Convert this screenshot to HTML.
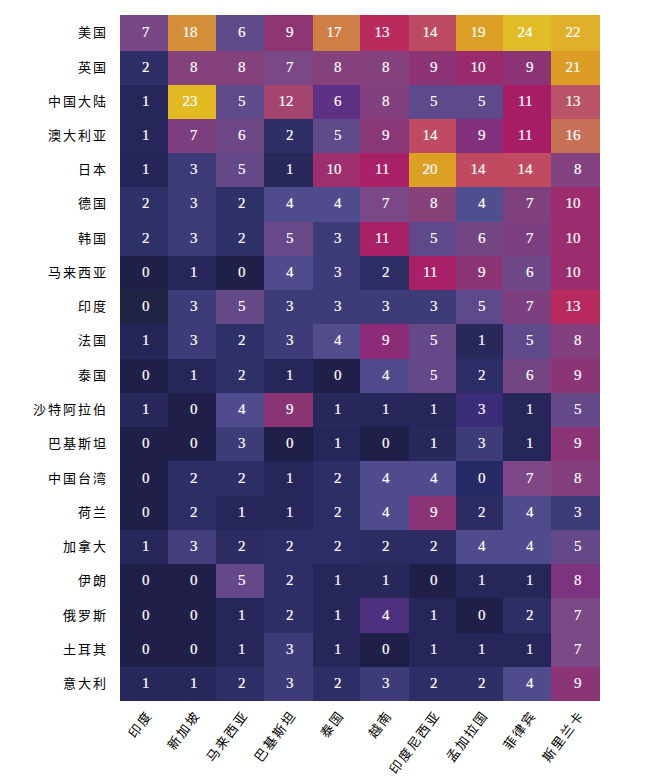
<!DOCTYPE html>
<html lang="zh-CN"><head><meta charset="utf-8"><style>
html,body{margin:0;padding:0;background:#fff;width:661px;height:777px;overflow:hidden;}
body{position:relative;font-family:"Liberation Serif",serif;}
.g{position:absolute;left:0;top:0;}
.c{position:absolute;}
.v{position:absolute;color:#fff;font-size:15px;-webkit-text-stroke:0.2px #fff;line-height:14px;text-align:right;white-space:nowrap;}
.yl{position:absolute;right:553px;font-size:13px;line-height:14px;letter-spacing:2px;font-weight:300;color:#000;white-space:nowrap;text-align:right;}
.xl{position:absolute;font-size:13px;line-height:14px;letter-spacing:2px;font-weight:300;color:#000;white-space:nowrap;transform-origin:100% 0;transform:rotate(-53deg);}
</style></head><body>

<div class="c" style="left:120px;width:48px;top:15px;height:36px;background:#774786"></div>
<div class="c" style="left:168px;width:48px;top:15px;height:36px;background:#d48f38"></div>
<div class="c" style="left:216px;width:48px;top:15px;height:36px;background:#5f4a8a"></div>
<div class="c" style="left:264px;width:49px;top:15px;height:36px;background:#8e3674"></div>
<div class="c" style="left:313px;width:47px;top:15px;height:36px;background:#cd7f46"></div>
<div class="c" style="left:360px;width:49px;top:15px;height:36px;background:#b82b5c"></div>
<div class="c" style="left:409px;width:47px;top:15px;height:36px;background:#bc4a60"></div>
<div class="c" style="left:456px;width:47px;top:15px;height:36px;background:#dc9e24"></div>
<div class="c" style="left:503px;width:48px;top:15px;height:36px;background:#e2bc26"></div>
<div class="c" style="left:551px;width:49px;top:15px;height:36px;background:#e0b02a"></div>
<div class="c" style="left:120px;width:48px;top:51px;height:34px;background:#2e2f66"></div>
<div class="c" style="left:168px;width:48px;top:51px;height:34px;background:#85417c"></div>
<div class="c" style="left:216px;width:48px;top:51px;height:34px;background:#85417c"></div>
<div class="c" style="left:264px;width:49px;top:51px;height:34px;background:#7a4885"></div>
<div class="c" style="left:313px;width:47px;top:51px;height:34px;background:#85417c"></div>
<div class="c" style="left:360px;width:49px;top:51px;height:34px;background:#84417c"></div>
<div class="c" style="left:409px;width:47px;top:51px;height:34px;background:#8c3476"></div>
<div class="c" style="left:456px;width:47px;top:51px;height:34px;background:#9a2a6e"></div>
<div class="c" style="left:503px;width:48px;top:51px;height:34px;background:#8c3476"></div>
<div class="c" style="left:551px;width:49px;top:51px;height:34px;background:#dc9c26"></div>
<div class="c" style="left:120px;width:48px;top:85px;height:34px;background:#26265a"></div>
<div class="c" style="left:168px;width:48px;top:85px;height:34px;background:#e2bb22"></div>
<div class="c" style="left:216px;width:48px;top:85px;height:34px;background:#5f4a8a"></div>
<div class="c" style="left:264px;width:49px;top:85px;height:34px;background:#a44570"></div>
<div class="c" style="left:313px;width:47px;top:85px;height:34px;background:#5f3185"></div>
<div class="c" style="left:360px;width:49px;top:85px;height:34px;background:#82407e"></div>
<div class="c" style="left:409px;width:47px;top:85px;height:34px;background:#5e4a8a"></div>
<div class="c" style="left:456px;width:47px;top:85px;height:34px;background:#5e4a8a"></div>
<div class="c" style="left:503px;width:48px;top:85px;height:34px;background:#a81e66"></div>
<div class="c" style="left:551px;width:49px;top:85px;height:34px;background:#b85466"></div>
<div class="c" style="left:120px;width:48px;top:119px;height:34px;background:#26265a"></div>
<div class="c" style="left:168px;width:48px;top:119px;height:34px;background:#7d3e80"></div>
<div class="c" style="left:216px;width:48px;top:119px;height:34px;background:#6e4787"></div>
<div class="c" style="left:264px;width:49px;top:119px;height:34px;background:#2e2f66"></div>
<div class="c" style="left:313px;width:47px;top:119px;height:34px;background:#5f4a8a"></div>
<div class="c" style="left:360px;width:49px;top:119px;height:34px;background:#8a3778"></div>
<div class="c" style="left:409px;width:47px;top:119px;height:34px;background:#c04a62"></div>
<div class="c" style="left:456px;width:47px;top:119px;height:34px;background:#82307e"></div>
<div class="c" style="left:503px;width:48px;top:119px;height:34px;background:#a81e66"></div>
<div class="c" style="left:551px;width:49px;top:119px;height:34px;background:#c87056"></div>
<div class="c" style="left:120px;width:48px;top:153px;height:34px;background:#26255a"></div>
<div class="c" style="left:168px;width:48px;top:153px;height:34px;background:#3c3b78"></div>
<div class="c" style="left:216px;width:48px;top:153px;height:34px;background:#644888"></div>
<div class="c" style="left:264px;width:49px;top:153px;height:34px;background:#28285c"></div>
<div class="c" style="left:313px;width:47px;top:153px;height:34px;background:#9e2e6e"></div>
<div class="c" style="left:360px;width:49px;top:153px;height:34px;background:#a82066"></div>
<div class="c" style="left:409px;width:47px;top:153px;height:34px;background:#dca024"></div>
<div class="c" style="left:456px;width:47px;top:153px;height:34px;background:#c04a60"></div>
<div class="c" style="left:503px;width:48px;top:153px;height:34px;background:#c04a60"></div>
<div class="c" style="left:551px;width:49px;top:153px;height:34px;background:#844380"></div>
<div class="c" style="left:120px;width:48px;top:187px;height:35px;background:#2e3068"></div>
<div class="c" style="left:168px;width:48px;top:187px;height:35px;background:#3e3c78"></div>
<div class="c" style="left:216px;width:48px;top:187px;height:35px;background:#2e3068"></div>
<div class="c" style="left:264px;width:49px;top:187px;height:35px;background:#504b8c"></div>
<div class="c" style="left:313px;width:47px;top:187px;height:35px;background:#504b8c"></div>
<div class="c" style="left:360px;width:49px;top:187px;height:35px;background:#7a4886"></div>
<div class="c" style="left:409px;width:47px;top:187px;height:35px;background:#88427a"></div>
<div class="c" style="left:456px;width:47px;top:187px;height:35px;background:#4f4e8e"></div>
<div class="c" style="left:503px;width:48px;top:187px;height:35px;background:#80407e"></div>
<div class="c" style="left:551px;width:49px;top:187px;height:35px;background:#9c2c6e"></div>
<div class="c" style="left:120px;width:48px;top:222px;height:34px;background:#2e3068"></div>
<div class="c" style="left:168px;width:48px;top:222px;height:34px;background:#3e3c78"></div>
<div class="c" style="left:216px;width:48px;top:222px;height:34px;background:#2e3068"></div>
<div class="c" style="left:264px;width:49px;top:222px;height:34px;background:#684888"></div>
<div class="c" style="left:313px;width:47px;top:222px;height:34px;background:#3e3c78"></div>
<div class="c" style="left:360px;width:49px;top:222px;height:34px;background:#a82066"></div>
<div class="c" style="left:409px;width:47px;top:222px;height:34px;background:#5e4a8a"></div>
<div class="c" style="left:456px;width:47px;top:222px;height:34px;background:#714683"></div>
<div class="c" style="left:503px;width:48px;top:222px;height:34px;background:#7c3e80"></div>
<div class="c" style="left:551px;width:49px;top:222px;height:34px;background:#9c2c6e"></div>
<div class="c" style="left:120px;width:48px;top:256px;height:34px;background:#1f1f4a"></div>
<div class="c" style="left:168px;width:48px;top:256px;height:34px;background:#26265a"></div>
<div class="c" style="left:216px;width:48px;top:256px;height:34px;background:#1f1f4a"></div>
<div class="c" style="left:264px;width:49px;top:256px;height:34px;background:#504b8c"></div>
<div class="c" style="left:313px;width:47px;top:256px;height:34px;background:#3e3c78"></div>
<div class="c" style="left:360px;width:49px;top:256px;height:34px;background:#2e2e66"></div>
<div class="c" style="left:409px;width:47px;top:256px;height:34px;background:#a82066"></div>
<div class="c" style="left:456px;width:47px;top:256px;height:34px;background:#8b3476"></div>
<div class="c" style="left:503px;width:48px;top:256px;height:34px;background:#6e4888"></div>
<div class="c" style="left:551px;width:49px;top:256px;height:34px;background:#9c2c6e"></div>
<div class="c" style="left:120px;width:48px;top:290px;height:34px;background:#1f2444"></div>
<div class="c" style="left:168px;width:48px;top:290px;height:34px;background:#3e3c78"></div>
<div class="c" style="left:216px;width:48px;top:290px;height:34px;background:#644888"></div>
<div class="c" style="left:264px;width:49px;top:290px;height:34px;background:#3e3c78"></div>
<div class="c" style="left:313px;width:47px;top:290px;height:34px;background:#3e3c78"></div>
<div class="c" style="left:360px;width:49px;top:290px;height:34px;background:#3e3c78"></div>
<div class="c" style="left:409px;width:47px;top:290px;height:34px;background:#3e3c78"></div>
<div class="c" style="left:456px;width:47px;top:290px;height:34px;background:#5e4a8a"></div>
<div class="c" style="left:503px;width:48px;top:290px;height:34px;background:#7d3e80"></div>
<div class="c" style="left:551px;width:49px;top:290px;height:34px;background:#b82a5e"></div>
<div class="c" style="left:120px;width:48px;top:324px;height:35px;background:#26255a"></div>
<div class="c" style="left:168px;width:48px;top:324px;height:35px;background:#3e3c78"></div>
<div class="c" style="left:216px;width:48px;top:324px;height:35px;background:#2e3068"></div>
<div class="c" style="left:264px;width:49px;top:324px;height:35px;background:#3e3c78"></div>
<div class="c" style="left:313px;width:47px;top:324px;height:35px;background:#524b8c"></div>
<div class="c" style="left:360px;width:49px;top:324px;height:35px;background:#8c2c78"></div>
<div class="c" style="left:409px;width:47px;top:324px;height:35px;background:#644888"></div>
<div class="c" style="left:456px;width:47px;top:324px;height:35px;background:#28285c"></div>
<div class="c" style="left:503px;width:48px;top:324px;height:35px;background:#5e4a8a"></div>
<div class="c" style="left:551px;width:49px;top:324px;height:35px;background:#84407e"></div>
<div class="c" style="left:120px;width:48px;top:359px;height:34px;background:#1f1f4a"></div>
<div class="c" style="left:168px;width:48px;top:359px;height:34px;background:#26265a"></div>
<div class="c" style="left:216px;width:48px;top:359px;height:34px;background:#2e3068"></div>
<div class="c" style="left:264px;width:49px;top:359px;height:34px;background:#26265a"></div>
<div class="c" style="left:313px;width:47px;top:359px;height:34px;background:#1f1f4a"></div>
<div class="c" style="left:360px;width:49px;top:359px;height:34px;background:#504b8c"></div>
<div class="c" style="left:409px;width:47px;top:359px;height:34px;background:#644888"></div>
<div class="c" style="left:456px;width:47px;top:359px;height:34px;background:#2c2c66"></div>
<div class="c" style="left:503px;width:48px;top:359px;height:34px;background:#714683"></div>
<div class="c" style="left:551px;width:49px;top:359px;height:34px;background:#8b3476"></div>
<div class="c" style="left:120px;width:48px;top:393px;height:34px;background:#28285c"></div>
<div class="c" style="left:168px;width:48px;top:393px;height:34px;background:#1f1f4a"></div>
<div class="c" style="left:216px;width:48px;top:393px;height:34px;background:#504b8c"></div>
<div class="c" style="left:264px;width:49px;top:393px;height:34px;background:#8b3473"></div>
<div class="c" style="left:313px;width:47px;top:393px;height:34px;background:#28285c"></div>
<div class="c" style="left:360px;width:49px;top:393px;height:34px;background:#26265a"></div>
<div class="c" style="left:409px;width:47px;top:393px;height:34px;background:#26265a"></div>
<div class="c" style="left:456px;width:47px;top:393px;height:34px;background:#3a2c78"></div>
<div class="c" style="left:503px;width:48px;top:393px;height:34px;background:#26265a"></div>
<div class="c" style="left:551px;width:49px;top:393px;height:34px;background:#644888"></div>
<div class="c" style="left:120px;width:48px;top:427px;height:34px;background:#1f1f4a"></div>
<div class="c" style="left:168px;width:48px;top:427px;height:34px;background:#1f1f4a"></div>
<div class="c" style="left:216px;width:48px;top:427px;height:34px;background:#3e3c78"></div>
<div class="c" style="left:264px;width:49px;top:427px;height:34px;background:#1f1f4a"></div>
<div class="c" style="left:313px;width:47px;top:427px;height:34px;background:#26265a"></div>
<div class="c" style="left:360px;width:49px;top:427px;height:34px;background:#1f1f4a"></div>
<div class="c" style="left:409px;width:47px;top:427px;height:34px;background:#28285c"></div>
<div class="c" style="left:456px;width:47px;top:427px;height:34px;background:#3e3c78"></div>
<div class="c" style="left:503px;width:48px;top:427px;height:34px;background:#26265a"></div>
<div class="c" style="left:551px;width:49px;top:427px;height:34px;background:#8b3476"></div>
<div class="c" style="left:120px;width:48px;top:461px;height:35px;background:#1f1f4a"></div>
<div class="c" style="left:168px;width:48px;top:461px;height:35px;background:#2e2e66"></div>
<div class="c" style="left:216px;width:48px;top:461px;height:35px;background:#2e2e66"></div>
<div class="c" style="left:264px;width:49px;top:461px;height:35px;background:#26265a"></div>
<div class="c" style="left:313px;width:47px;top:461px;height:35px;background:#2e2e66"></div>
<div class="c" style="left:360px;width:49px;top:461px;height:35px;background:#504b8c"></div>
<div class="c" style="left:409px;width:47px;top:461px;height:35px;background:#504b8c"></div>
<div class="c" style="left:456px;width:47px;top:461px;height:35px;background:#262a66"></div>
<div class="c" style="left:503px;width:48px;top:461px;height:35px;background:#7d4885"></div>
<div class="c" style="left:551px;width:49px;top:461px;height:35px;background:#84407e"></div>
<div class="c" style="left:120px;width:48px;top:496px;height:34px;background:#1f1f4a"></div>
<div class="c" style="left:168px;width:48px;top:496px;height:34px;background:#2e2e66"></div>
<div class="c" style="left:216px;width:48px;top:496px;height:34px;background:#26265a"></div>
<div class="c" style="left:264px;width:49px;top:496px;height:34px;background:#26265a"></div>
<div class="c" style="left:313px;width:47px;top:496px;height:34px;background:#2e2e66"></div>
<div class="c" style="left:360px;width:49px;top:496px;height:34px;background:#504b8c"></div>
<div class="c" style="left:409px;width:47px;top:496px;height:34px;background:#8b3476"></div>
<div class="c" style="left:456px;width:47px;top:496px;height:34px;background:#2c2c62"></div>
<div class="c" style="left:503px;width:48px;top:496px;height:34px;background:#504b8c"></div>
<div class="c" style="left:551px;width:49px;top:496px;height:34px;background:#3e3c78"></div>
<div class="c" style="left:120px;width:48px;top:530px;height:34px;background:#28285c"></div>
<div class="c" style="left:168px;width:48px;top:530px;height:34px;background:#453f7e"></div>
<div class="c" style="left:216px;width:48px;top:530px;height:34px;background:#2c2c62"></div>
<div class="c" style="left:264px;width:49px;top:530px;height:34px;background:#2e2e66"></div>
<div class="c" style="left:313px;width:47px;top:530px;height:34px;background:#2e2e66"></div>
<div class="c" style="left:360px;width:49px;top:530px;height:34px;background:#2c2c62"></div>
<div class="c" style="left:409px;width:47px;top:530px;height:34px;background:#2c2c62"></div>
<div class="c" style="left:456px;width:47px;top:530px;height:34px;background:#504b8c"></div>
<div class="c" style="left:503px;width:48px;top:530px;height:34px;background:#504b8c"></div>
<div class="c" style="left:551px;width:49px;top:530px;height:34px;background:#644888"></div>
<div class="c" style="left:120px;width:48px;top:564px;height:34px;background:#1f1f4a"></div>
<div class="c" style="left:168px;width:48px;top:564px;height:34px;background:#1f1f4a"></div>
<div class="c" style="left:216px;width:48px;top:564px;height:34px;background:#644888"></div>
<div class="c" style="left:264px;width:49px;top:564px;height:34px;background:#2e2e66"></div>
<div class="c" style="left:313px;width:47px;top:564px;height:34px;background:#26265a"></div>
<div class="c" style="left:360px;width:49px;top:564px;height:34px;background:#28285c"></div>
<div class="c" style="left:409px;width:47px;top:564px;height:34px;background:#1f1f4a"></div>
<div class="c" style="left:456px;width:47px;top:564px;height:34px;background:#26265a"></div>
<div class="c" style="left:503px;width:48px;top:564px;height:34px;background:#26265a"></div>
<div class="c" style="left:551px;width:49px;top:564px;height:34px;background:#7c3480"></div>
<div class="c" style="left:120px;width:48px;top:598px;height:35px;background:#1f1f4a"></div>
<div class="c" style="left:168px;width:48px;top:598px;height:35px;background:#1f1f4a"></div>
<div class="c" style="left:216px;width:48px;top:598px;height:35px;background:#26265a"></div>
<div class="c" style="left:264px;width:49px;top:598px;height:35px;background:#2e2e66"></div>
<div class="c" style="left:313px;width:47px;top:598px;height:35px;background:#26265a"></div>
<div class="c" style="left:360px;width:49px;top:598px;height:35px;background:#4e3080"></div>
<div class="c" style="left:409px;width:47px;top:598px;height:35px;background:#26265a"></div>
<div class="c" style="left:456px;width:47px;top:598px;height:35px;background:#1f1f4a"></div>
<div class="c" style="left:503px;width:48px;top:598px;height:35px;background:#2e2e66"></div>
<div class="c" style="left:551px;width:49px;top:598px;height:35px;background:#7a4885"></div>
<div class="c" style="left:120px;width:48px;top:633px;height:34px;background:#1f1f4a"></div>
<div class="c" style="left:168px;width:48px;top:633px;height:34px;background:#1f1f4a"></div>
<div class="c" style="left:216px;width:48px;top:633px;height:34px;background:#26265a"></div>
<div class="c" style="left:264px;width:49px;top:633px;height:34px;background:#3e3c78"></div>
<div class="c" style="left:313px;width:47px;top:633px;height:34px;background:#26265a"></div>
<div class="c" style="left:360px;width:49px;top:633px;height:34px;background:#1f1f4a"></div>
<div class="c" style="left:409px;width:47px;top:633px;height:34px;background:#26265a"></div>
<div class="c" style="left:456px;width:47px;top:633px;height:34px;background:#26265a"></div>
<div class="c" style="left:503px;width:48px;top:633px;height:34px;background:#26265a"></div>
<div class="c" style="left:551px;width:49px;top:633px;height:34px;background:#7a4885"></div>
<div class="c" style="left:120px;width:48px;top:667px;height:34px;background:#28285c"></div>
<div class="c" style="left:168px;width:48px;top:667px;height:34px;background:#28285c"></div>
<div class="c" style="left:216px;width:48px;top:667px;height:34px;background:#2e2e66"></div>
<div class="c" style="left:264px;width:49px;top:667px;height:34px;background:#3e3c78"></div>
<div class="c" style="left:313px;width:47px;top:667px;height:34px;background:#2e2e66"></div>
<div class="c" style="left:360px;width:49px;top:667px;height:34px;background:#3e3c78"></div>
<div class="c" style="left:409px;width:47px;top:667px;height:34px;background:#2e2e66"></div>
<div class="c" style="left:456px;width:47px;top:667px;height:34px;background:#2e2e66"></div>
<div class="c" style="left:503px;width:48px;top:667px;height:34px;background:#504b8c"></div>
<div class="c" style="left:551px;width:49px;top:667px;height:34px;background:#8b3476"></div>
<div class="v" style="right:511.6px;top:25.0px">7</div>
<div class="v" style="right:463.6px;top:25.0px">18</div>
<div class="v" style="right:415.6px;top:25.0px">6</div>
<div class="v" style="right:367.6px;top:25.0px">9</div>
<div class="v" style="right:319.6px;top:25.0px">17</div>
<div class="v" style="right:271.6px;top:25.0px">13</div>
<div class="v" style="right:223.6px;top:25.0px">14</div>
<div class="v" style="right:175.6px;top:25.0px">19</div>
<div class="v" style="right:128.6px;top:25.0px">24</div>
<div class="v" style="right:80.6px;top:25.0px">22</div>
<div class="yl" style="top:26.0px">美国</div>
<div class="v" style="right:511.6px;top:60.3px">2</div>
<div class="v" style="right:463.6px;top:60.3px">8</div>
<div class="v" style="right:415.6px;top:60.3px">8</div>
<div class="v" style="right:367.6px;top:60.3px">7</div>
<div class="v" style="right:319.6px;top:60.3px">8</div>
<div class="v" style="right:271.6px;top:60.3px">8</div>
<div class="v" style="right:223.6px;top:60.3px">9</div>
<div class="v" style="right:175.6px;top:60.3px">10</div>
<div class="v" style="right:127.6px;top:60.3px">9</div>
<div class="v" style="right:80.6px;top:60.3px">21</div>
<div class="yl" style="top:61.3px">英国</div>
<div class="v" style="right:511.6px;top:93.5px">1</div>
<div class="v" style="right:463.6px;top:93.5px">23</div>
<div class="v" style="right:415.6px;top:93.5px">5</div>
<div class="v" style="right:367.6px;top:93.5px">12</div>
<div class="v" style="right:319.6px;top:93.5px">6</div>
<div class="v" style="right:271.6px;top:93.5px">8</div>
<div class="v" style="right:223.6px;top:93.5px">5</div>
<div class="v" style="right:175.6px;top:93.5px">5</div>
<div class="v" style="right:128.6px;top:93.5px">11</div>
<div class="v" style="right:80.6px;top:93.5px">13</div>
<div class="yl" style="top:94.5px">中国大陆</div>
<div class="v" style="right:511.6px;top:127.8px">1</div>
<div class="v" style="right:463.6px;top:127.8px">7</div>
<div class="v" style="right:415.6px;top:127.8px">6</div>
<div class="v" style="right:367.6px;top:127.8px">2</div>
<div class="v" style="right:319.6px;top:127.8px">5</div>
<div class="v" style="right:271.6px;top:127.8px">9</div>
<div class="v" style="right:223.6px;top:127.8px">14</div>
<div class="v" style="right:175.6px;top:127.8px">9</div>
<div class="v" style="right:128.6px;top:127.8px">11</div>
<div class="v" style="right:80.6px;top:127.8px">16</div>
<div class="yl" style="top:128.8px">澳大利亚</div>
<div class="v" style="right:511.6px;top:162.1px">1</div>
<div class="v" style="right:463.6px;top:162.1px">3</div>
<div class="v" style="right:415.6px;top:162.1px">5</div>
<div class="v" style="right:367.6px;top:162.1px">1</div>
<div class="v" style="right:319.6px;top:162.1px">10</div>
<div class="v" style="right:271.6px;top:162.1px">11</div>
<div class="v" style="right:223.6px;top:162.1px">20</div>
<div class="v" style="right:175.6px;top:162.1px">14</div>
<div class="v" style="right:128.6px;top:162.1px">14</div>
<div class="v" style="right:79.6px;top:162.1px">8</div>
<div class="yl" style="top:163.1px">日本</div>
<div class="v" style="right:511.6px;top:196.4px">2</div>
<div class="v" style="right:463.6px;top:196.4px">3</div>
<div class="v" style="right:415.6px;top:196.4px">2</div>
<div class="v" style="right:367.6px;top:196.4px">4</div>
<div class="v" style="right:319.6px;top:196.4px">4</div>
<div class="v" style="right:271.6px;top:196.4px">7</div>
<div class="v" style="right:223.6px;top:196.4px">8</div>
<div class="v" style="right:175.6px;top:196.4px">4</div>
<div class="v" style="right:127.6px;top:196.4px">7</div>
<div class="v" style="right:80.6px;top:196.4px">10</div>
<div class="yl" style="top:197.4px">德国</div>
<div class="v" style="right:511.6px;top:230.6px">2</div>
<div class="v" style="right:463.6px;top:230.6px">3</div>
<div class="v" style="right:415.6px;top:230.6px">2</div>
<div class="v" style="right:367.6px;top:230.6px">5</div>
<div class="v" style="right:319.6px;top:230.6px">3</div>
<div class="v" style="right:271.6px;top:230.6px">11</div>
<div class="v" style="right:223.6px;top:230.6px">5</div>
<div class="v" style="right:175.6px;top:230.6px">6</div>
<div class="v" style="right:127.6px;top:230.6px">7</div>
<div class="v" style="right:80.6px;top:230.6px">10</div>
<div class="yl" style="top:231.6px">韩国</div>
<div class="v" style="right:511.6px;top:264.9px">0</div>
<div class="v" style="right:463.6px;top:264.9px">1</div>
<div class="v" style="right:415.6px;top:264.9px">0</div>
<div class="v" style="right:367.6px;top:264.9px">4</div>
<div class="v" style="right:319.6px;top:264.9px">3</div>
<div class="v" style="right:271.6px;top:264.9px">2</div>
<div class="v" style="right:223.6px;top:264.9px">11</div>
<div class="v" style="right:175.6px;top:264.9px">9</div>
<div class="v" style="right:127.6px;top:264.9px">6</div>
<div class="v" style="right:80.6px;top:264.9px">10</div>
<div class="yl" style="top:265.9px">马来西亚</div>
<div class="v" style="right:511.6px;top:299.2px">0</div>
<div class="v" style="right:463.6px;top:299.2px">3</div>
<div class="v" style="right:415.6px;top:299.2px">5</div>
<div class="v" style="right:367.6px;top:299.2px">3</div>
<div class="v" style="right:319.6px;top:299.2px">3</div>
<div class="v" style="right:271.6px;top:299.2px">3</div>
<div class="v" style="right:223.6px;top:299.2px">3</div>
<div class="v" style="right:175.6px;top:299.2px">5</div>
<div class="v" style="right:127.6px;top:299.2px">7</div>
<div class="v" style="right:80.6px;top:299.2px">13</div>
<div class="yl" style="top:300.2px">印度</div>
<div class="v" style="right:511.6px;top:333.4px">1</div>
<div class="v" style="right:463.6px;top:333.4px">3</div>
<div class="v" style="right:415.6px;top:333.4px">2</div>
<div class="v" style="right:367.6px;top:333.4px">3</div>
<div class="v" style="right:319.6px;top:333.4px">4</div>
<div class="v" style="right:271.6px;top:333.4px">9</div>
<div class="v" style="right:223.6px;top:333.4px">5</div>
<div class="v" style="right:175.6px;top:333.4px">1</div>
<div class="v" style="right:127.6px;top:333.4px">5</div>
<div class="v" style="right:79.6px;top:333.4px">8</div>
<div class="yl" style="top:334.4px">法国</div>
<div class="v" style="right:511.6px;top:367.7px">0</div>
<div class="v" style="right:463.6px;top:367.7px">1</div>
<div class="v" style="right:415.6px;top:367.7px">2</div>
<div class="v" style="right:367.6px;top:367.7px">1</div>
<div class="v" style="right:319.6px;top:367.7px">0</div>
<div class="v" style="right:271.6px;top:367.7px">4</div>
<div class="v" style="right:223.6px;top:367.7px">5</div>
<div class="v" style="right:175.6px;top:367.7px">2</div>
<div class="v" style="right:127.6px;top:367.7px">6</div>
<div class="v" style="right:79.6px;top:367.7px">9</div>
<div class="yl" style="top:368.7px">泰国</div>
<div class="v" style="right:511.6px;top:402.0px">1</div>
<div class="v" style="right:463.6px;top:402.0px">0</div>
<div class="v" style="right:415.6px;top:402.0px">4</div>
<div class="v" style="right:367.6px;top:402.0px">9</div>
<div class="v" style="right:319.6px;top:402.0px">1</div>
<div class="v" style="right:271.6px;top:402.0px">1</div>
<div class="v" style="right:223.6px;top:402.0px">1</div>
<div class="v" style="right:175.6px;top:402.0px">3</div>
<div class="v" style="right:127.6px;top:402.0px">1</div>
<div class="v" style="right:79.6px;top:402.0px">5</div>
<div class="yl" style="top:403.0px">沙特阿拉伯</div>
<div class="v" style="right:511.6px;top:436.2px">0</div>
<div class="v" style="right:463.6px;top:436.2px">0</div>
<div class="v" style="right:415.6px;top:436.2px">3</div>
<div class="v" style="right:367.6px;top:436.2px">0</div>
<div class="v" style="right:319.6px;top:436.2px">1</div>
<div class="v" style="right:271.6px;top:436.2px">0</div>
<div class="v" style="right:223.6px;top:436.2px">1</div>
<div class="v" style="right:175.6px;top:436.2px">3</div>
<div class="v" style="right:127.6px;top:436.2px">1</div>
<div class="v" style="right:79.6px;top:436.2px">9</div>
<div class="yl" style="top:437.2px">巴基斯坦</div>
<div class="v" style="right:511.6px;top:470.5px">0</div>
<div class="v" style="right:463.6px;top:470.5px">2</div>
<div class="v" style="right:415.6px;top:470.5px">2</div>
<div class="v" style="right:367.6px;top:470.5px">1</div>
<div class="v" style="right:319.6px;top:470.5px">2</div>
<div class="v" style="right:271.6px;top:470.5px">4</div>
<div class="v" style="right:223.6px;top:470.5px">4</div>
<div class="v" style="right:175.6px;top:470.5px">0</div>
<div class="v" style="right:127.6px;top:470.5px">7</div>
<div class="v" style="right:79.6px;top:470.5px">8</div>
<div class="yl" style="top:471.5px">中国台湾</div>
<div class="v" style="right:511.6px;top:504.8px">0</div>
<div class="v" style="right:463.6px;top:504.8px">2</div>
<div class="v" style="right:415.6px;top:504.8px">1</div>
<div class="v" style="right:367.6px;top:504.8px">1</div>
<div class="v" style="right:319.6px;top:504.8px">2</div>
<div class="v" style="right:271.6px;top:504.8px">4</div>
<div class="v" style="right:223.6px;top:504.8px">9</div>
<div class="v" style="right:175.6px;top:504.8px">2</div>
<div class="v" style="right:127.6px;top:504.8px">4</div>
<div class="v" style="right:79.6px;top:504.8px">3</div>
<div class="yl" style="top:505.8px">荷兰</div>
<div class="v" style="right:511.6px;top:539.1px">1</div>
<div class="v" style="right:463.6px;top:539.1px">3</div>
<div class="v" style="right:415.6px;top:539.1px">2</div>
<div class="v" style="right:367.6px;top:539.1px">2</div>
<div class="v" style="right:319.6px;top:539.1px">2</div>
<div class="v" style="right:271.6px;top:539.1px">2</div>
<div class="v" style="right:223.6px;top:539.1px">2</div>
<div class="v" style="right:175.6px;top:539.1px">4</div>
<div class="v" style="right:127.6px;top:539.1px">4</div>
<div class="v" style="right:79.6px;top:539.1px">5</div>
<div class="yl" style="top:540.1px">加拿大</div>
<div class="v" style="right:511.6px;top:573.3px">0</div>
<div class="v" style="right:463.6px;top:573.3px">0</div>
<div class="v" style="right:415.6px;top:573.3px">5</div>
<div class="v" style="right:367.6px;top:573.3px">2</div>
<div class="v" style="right:319.6px;top:573.3px">1</div>
<div class="v" style="right:271.6px;top:573.3px">1</div>
<div class="v" style="right:223.6px;top:573.3px">0</div>
<div class="v" style="right:175.6px;top:573.3px">1</div>
<div class="v" style="right:127.6px;top:573.3px">1</div>
<div class="v" style="right:79.6px;top:573.3px">8</div>
<div class="yl" style="top:574.3px">伊朗</div>
<div class="v" style="right:511.6px;top:607.6px">0</div>
<div class="v" style="right:463.6px;top:607.6px">0</div>
<div class="v" style="right:415.6px;top:607.6px">1</div>
<div class="v" style="right:367.6px;top:607.6px">2</div>
<div class="v" style="right:319.6px;top:607.6px">1</div>
<div class="v" style="right:271.6px;top:607.6px">4</div>
<div class="v" style="right:223.6px;top:607.6px">1</div>
<div class="v" style="right:175.6px;top:607.6px">0</div>
<div class="v" style="right:127.6px;top:607.6px">2</div>
<div class="v" style="right:79.6px;top:607.6px">7</div>
<div class="yl" style="top:608.6px">俄罗斯</div>
<div class="v" style="right:511.6px;top:641.9px">0</div>
<div class="v" style="right:463.6px;top:641.9px">0</div>
<div class="v" style="right:415.6px;top:641.9px">1</div>
<div class="v" style="right:367.6px;top:641.9px">3</div>
<div class="v" style="right:319.6px;top:641.9px">1</div>
<div class="v" style="right:271.6px;top:641.9px">0</div>
<div class="v" style="right:223.6px;top:641.9px">1</div>
<div class="v" style="right:175.6px;top:641.9px">1</div>
<div class="v" style="right:127.6px;top:641.9px">1</div>
<div class="v" style="right:79.6px;top:641.9px">7</div>
<div class="yl" style="top:642.9px">土耳其</div>
<div class="v" style="right:511.6px;top:676.1px">1</div>
<div class="v" style="right:463.6px;top:676.1px">1</div>
<div class="v" style="right:415.6px;top:676.1px">2</div>
<div class="v" style="right:367.6px;top:676.1px">3</div>
<div class="v" style="right:319.6px;top:676.1px">2</div>
<div class="v" style="right:271.6px;top:676.1px">3</div>
<div class="v" style="right:223.6px;top:676.1px">2</div>
<div class="v" style="right:175.6px;top:676.1px">2</div>
<div class="v" style="right:127.6px;top:676.1px">4</div>
<div class="v" style="right:79.6px;top:676.1px">9</div>
<div class="yl" style="top:677.1px">意大利</div>
<div class="xl" style="right:517.5px;top:708px">印度</div>
<div class="xl" style="right:469.5px;top:708px">新加坡</div>
<div class="xl" style="right:421.5px;top:708px">马来西亚</div>
<div class="xl" style="right:373.5px;top:708px">巴基斯坦</div>
<div class="xl" style="right:325.5px;top:708px">泰国</div>
<div class="xl" style="right:277.5px;top:708px">越南</div>
<div class="xl" style="right:229.5px;top:708px">印度尼西亚</div>
<div class="xl" style="right:181.5px;top:708px">孟加拉国</div>
<div class="xl" style="right:133.5px;top:708px">菲律宾</div>
<div class="xl" style="right:85.5px;top:708px">斯里兰卡</div>
</body></html>
